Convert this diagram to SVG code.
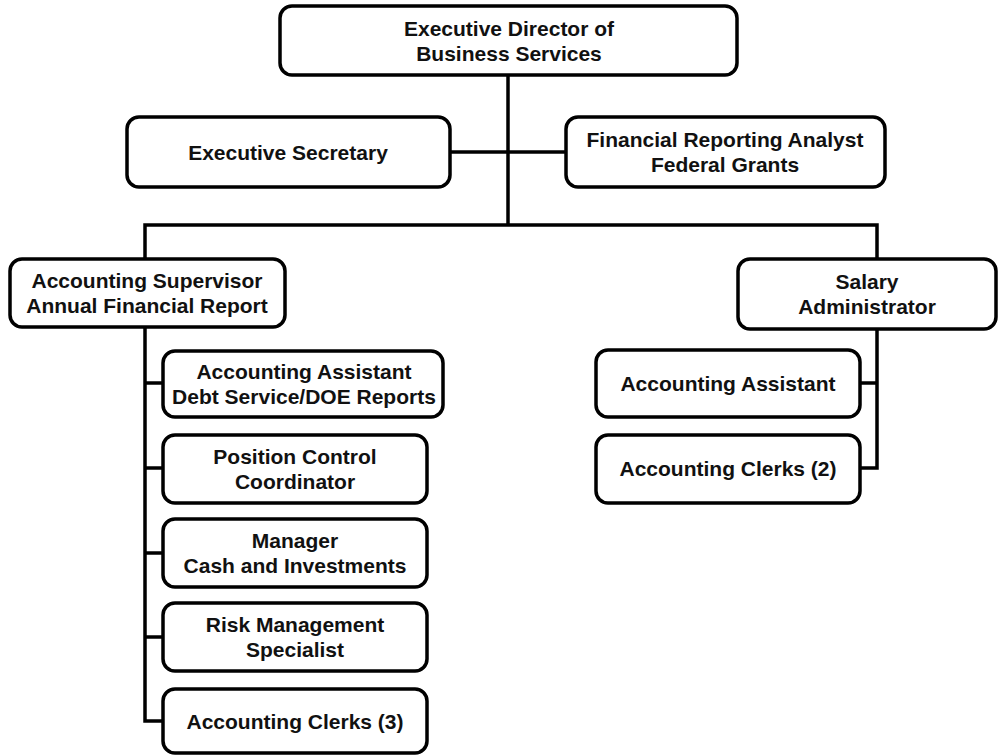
<svg xmlns="http://www.w3.org/2000/svg" width="1006" height="756" viewBox="0 0 1006 756">
  <style>
    .box { fill: #ffffff; stroke: #000000; stroke-width: 3.5; }
    .lbl { font-family: "Liberation Sans", Arial, sans-serif; font-weight: bold; font-size: 21px; fill: #111111; text-anchor: middle; }
    .wire { fill: none; stroke: #000000; stroke-width: 3.5; stroke-linejoin: miter; }
  </style>
  <rect width="1006" height="756" fill="#ffffff"/>

  <!-- reporting lines -->
  <g id="connectors">
    <path class="wire" d="M508,75 V225"/>
    <path class="wire" d="M450,152 H566"/>
    <path class="wire" d="M145,259 V225 H877 V259"/>
    <path class="wire" d="M145,327 V721 H163"/>
    <path class="wire" d="M145,383 H163"/>
    <path class="wire" d="M145,468 H163"/>
    <path class="wire" d="M145,553 H163"/>
    <path class="wire" d="M145,637 H163"/>
    <path class="wire" d="M877,329 V468 H860"/>
    <path class="wire" d="M877,383 H860"/>
  </g>

  <g id="exec-director">
    <rect class="box" x="280" y="6" width="457" height="69" rx="12"/>
    <text class="lbl" x="509" y="36">Executive Director of</text>
    <text class="lbl" x="509" y="61">Business Services</text>
  </g>

  <g id="exec-secretary">
    <rect class="box" x="127" y="117" width="323" height="70" rx="12"/>
    <text class="lbl" x="288" y="160">Executive Secretary</text>
  </g>

  <g id="financial-analyst">
    <rect class="box" x="566" y="117" width="319" height="70" rx="12"/>
    <text class="lbl" x="725" y="147">Financial Reporting Analyst</text>
    <text class="lbl" x="725" y="172">Federal Grants</text>
  </g>

  <g id="accounting-supervisor">
    <rect class="box" x="10" y="259" width="275" height="68" rx="12"/>
    <text class="lbl" x="147" y="288">Accounting Supervisor</text>
    <text class="lbl" x="147" y="313">Annual Financial Report</text>
  </g>

  <g id="salary-administrator">
    <rect class="box" x="738" y="259" width="258" height="70" rx="12"/>
    <text class="lbl" x="867" y="289">Salary</text>
    <text class="lbl" x="867" y="314">Administrator</text>
  </g>

  <g id="acct-assistant-debt">
    <rect class="box" x="163" y="351" width="280" height="66" rx="12"/>
    <text class="lbl" x="304" y="379">Accounting Assistant</text>
    <text class="lbl" x="304" y="404">Debt Service/DOE Reports</text>
  </g>

  <g id="position-control">
    <rect class="box" x="163" y="435" width="264" height="68" rx="12"/>
    <text class="lbl" x="295" y="464">Position Control</text>
    <text class="lbl" x="295" y="489">Coordinator</text>
  </g>

  <g id="cash-manager">
    <rect class="box" x="163" y="519" width="264" height="68" rx="12"/>
    <text class="lbl" x="295" y="548">Manager</text>
    <text class="lbl" x="295" y="573">Cash and Investments</text>
  </g>

  <g id="risk-specialist">
    <rect class="box" x="163" y="603" width="264" height="68" rx="12"/>
    <text class="lbl" x="295" y="632">Risk Management</text>
    <text class="lbl" x="295" y="657">Specialist</text>
  </g>

  <g id="acct-clerks-3">
    <rect class="box" x="163" y="689" width="264" height="64" rx="12"/>
    <text class="lbl" x="295" y="729">Accounting Clerks (3)</text>
  </g>

  <g id="acct-assistant">
    <rect class="box" x="596" y="350" width="264" height="67" rx="12"/>
    <text class="lbl" x="728" y="391">Accounting Assistant</text>
  </g>

  <g id="acct-clerks-2">
    <rect class="box" x="596" y="435" width="264" height="68" rx="12"/>
    <text class="lbl" x="728" y="476">Accounting Clerks (2)</text>
  </g>
</svg>
